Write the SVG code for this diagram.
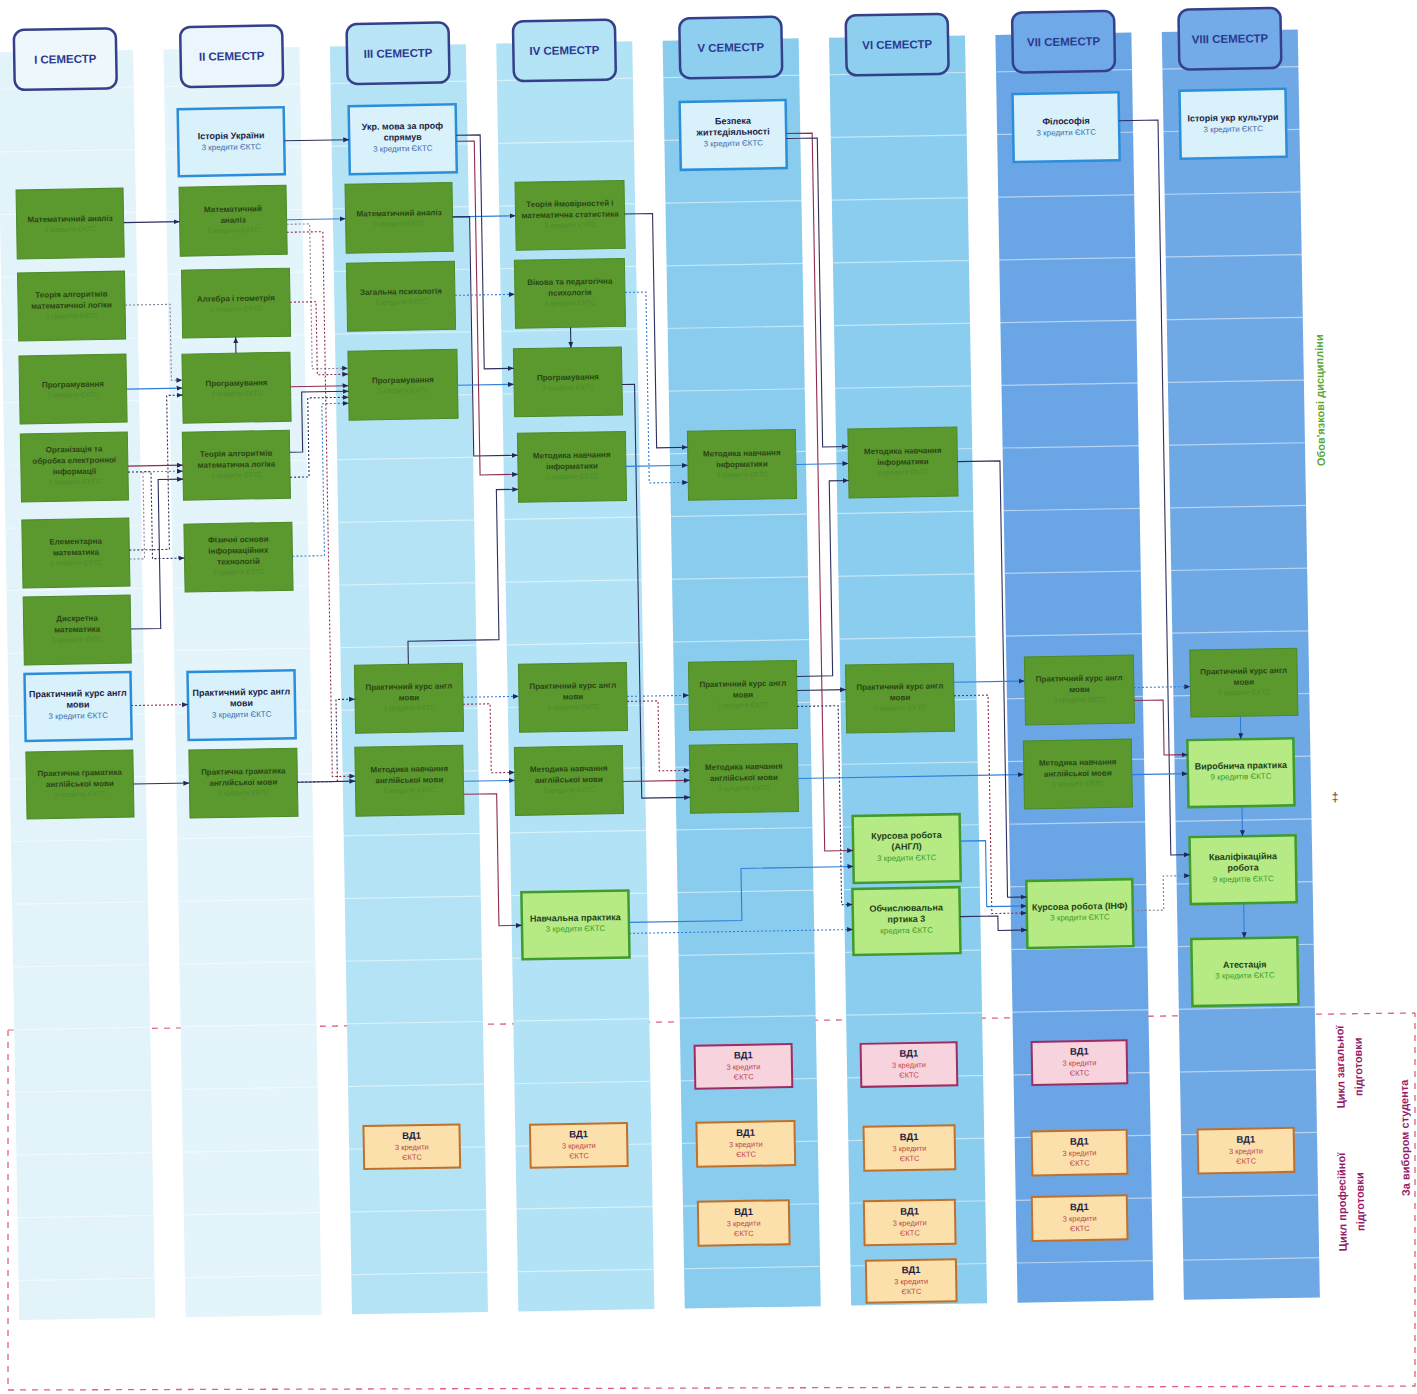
<svg xmlns="http://www.w3.org/2000/svg" width="1417" height="1394" viewBox="0 0 1417 1394">
<defs>
<style>
text{font-family:"Liberation Sans",Arial,sans-serif;text-anchor:middle}
.g{fill:#5b992f;stroke:#4b8a27;stroke-width:1}
.lb{fill:#d8f1fb;stroke:#2c8ed9;stroke-width:2.5}
.lg{fill:#b5ea84;stroke:#3f9b2c;stroke-width:2.5}
.vp{fill:#f7d4dd;stroke:#9d2c62;stroke-width:2}
.vo{fill:#fbe0ab;stroke:#c0702b;stroke-width:2}
.hd{stroke:#34418a;stroke-width:2.5}
.gt{font-size:8px;font-weight:bold;fill:#2a4614}
.gs{font-size:7px;fill:#4d8a2b}
.lt{font-size:9px;font-weight:bold;fill:#1d1d45}
.ls{font-size:8px;fill:#3c6aae}
.lgt{font-size:9px;font-weight:bold;fill:#24421a}
.lgs{font-size:8px;fill:#3d9a2a}
.vt{font-size:9.5px;font-weight:bold;fill:#1d1d45}
.vs{font-size:7.5px;fill:#c2434f}
.ht{font-size:11.5px;font-weight:bold;fill:#2b3990}
.cn{fill:none;stroke-width:1.1;marker-end:url(#ah)}
.navy{stroke:#2b2f5c}
.blue{stroke:#2f7ed8}
.maroon{stroke:#8e2b4e}
.gray{stroke:#8a7f98}
.dot{stroke-dasharray:2 2}
.grid line{stroke:#ffffff;stroke-opacity:0.5;stroke-width:1.2}
.side{font-size:11px;font-weight:bold}
</style>
<marker id="ah" viewBox="0 0 6 6" refX="6" refY="3" markerWidth="6" markerHeight="6" markerUnits="userSpaceOnUse" orient="auto"><path d="M0,0.5 L6,3 L0,5.5 z" fill="#1f2a5a"/></marker>
</defs>
<rect width="1417" height="1394" fill="#ffffff"/>
<g id="boundary" fill="none" stroke="#e0607e" stroke-width="1.3" stroke-dasharray="6 6">
<path d="M8,1030 L1415,1013"/>
<path d="M8,1030 L8,1390 L1415,1386 L1415,1013"/>
</g>
<text x="1335" y="801" style="font-size:12px;fill:#444">‡</text>
<g transform="rotate(-1 708 697)">
<g id="strips">
<rect x="8.5" y="40" width="136" height="1268" fill="#e2f3fa"/>
<rect x="174.9" y="40" width="136" height="1268" fill="#e3f4fa"/>
<rect x="341.3" y="40" width="136" height="1268" fill="#b4e3f6"/>
<rect x="507.7" y="40" width="136" height="1268" fill="#b1e2f5"/>
<rect x="674.1" y="40" width="136" height="1268" fill="#89ccee"/>
<rect x="840.5" y="40" width="136" height="1268" fill="#8bcdee"/>
<rect x="1006.9" y="40" width="136" height="1268" fill="#6aa6e6"/>
<rect x="1173.3" y="40" width="136" height="1268" fill="#6ea9e6"/>
</g>
<g class="grid">
<line x1="0" x2="1310" y1="77" y2="77"/><line x1="0" x2="1310" y1="139.7" y2="139.7"/><line x1="0" x2="1310" y1="202.4" y2="202.4"/><line x1="0" x2="1310" y1="265.1" y2="265.1"/><line x1="0" x2="1310" y1="327.8" y2="327.8"/><line x1="0" x2="1310" y1="390.5" y2="390.5"/><line x1="0" x2="1310" y1="453.2" y2="453.2"/><line x1="0" x2="1310" y1="515.9" y2="515.9"/><line x1="0" x2="1310" y1="578.6" y2="578.6"/><line x1="0" x2="1310" y1="641.3" y2="641.3"/><line x1="0" x2="1310" y1="704" y2="704"/><line x1="0" x2="1310" y1="766.7" y2="766.7"/><line x1="0" x2="1310" y1="829.4" y2="829.4"/><line x1="0" x2="1310" y1="892.1" y2="892.1"/><line x1="0" x2="1310" y1="954.8" y2="954.8"/><line x1="0" x2="1310" y1="1017.5" y2="1017.5"/><line x1="0" x2="1310" y1="1080.2" y2="1080.2"/><line x1="0" x2="1310" y1="1142.9" y2="1142.9"/><line x1="0" x2="1310" y1="1205.6" y2="1205.6"/><line x1="0" x2="1310" y1="1268.3" y2="1268.3"/>
</g>
<g id="headers">
<g id="h1"><rect class="hd" x="25.5" y="18" width="102" height="60" rx="10" fill="#eef8fc"/><text class="ht" x="76.5" y="52">I СЕМЕСТР</text></g>
<g id="h2"><rect class="hd" x="191.9" y="18" width="102" height="60" rx="10" fill="#eaf6fb"/><text class="ht" x="242.9" y="52">II СЕМЕСТР</text></g>
<g id="h3"><rect class="hd" x="358.3" y="18" width="102" height="60" rx="10" fill="#b9e5f7"/><text class="ht" x="409.3" y="52">III СЕМЕСТР</text></g>
<g id="h4"><rect class="hd" x="524.7" y="18" width="102" height="60" rx="10" fill="#b5e3f6"/><text class="ht" x="575.7" y="52">IV СЕМЕСТР</text></g>
<g id="h5"><rect class="hd" x="691.1" y="18" width="102" height="60" rx="10" fill="#8ecff0"/><text class="ht" x="742.1" y="52">V СЕМЕСТР</text></g>
<g id="h6"><rect class="hd" x="857.5" y="18" width="102" height="60" rx="10" fill="#8ecff0"/><text class="ht" x="908.5" y="52">VI СЕМЕСТР</text></g>
<g id="h7"><rect class="hd" x="1023.9" y="18" width="102" height="60" rx="10" fill="#6fa9e7"/><text class="ht" x="1074.9" y="52">VII СЕМЕСТР</text></g>
<g id="h8"><rect class="hd" x="1190.3" y="18" width="102" height="60" rx="10" fill="#72abe7"/><text class="ht" x="1241.3" y="52">VIII СЕМЕСТР</text></g>
</g>
<g id="nodes">
<g id="n1-ma"><rect class="g" x="25" y="178" width="107" height="69"/><text class="gt" x="78.5" y="210.5">Математичний аналіз</text><text class="gs" x="78.5" y="220.5">3 кредити ЄКТС</text></g>
<g id="n1-tal"><rect class="g" x="25" y="261" width="107" height="68"/><text class="gt" x="78.5" y="286">Теорія алгоритмів</text><text class="gt" x="78.5" y="297">математичної логіки</text><text class="gs" x="78.5" y="307">3 кредити ЄКТС</text></g>
<g id="n1-prog"><rect class="g" x="25" y="344" width="107" height="68"/><text class="gt" x="78.5" y="376">Програмування</text><text class="gs" x="78.5" y="386">3 кредити ЄКТС</text></g>
<g id="n1-org"><rect class="g" x="25" y="422" width="107" height="68"/><text class="gt" x="78.5" y="441">Організація та</text><text class="gt" x="78.5" y="452">обробка електронної</text><text class="gt" x="78.5" y="463">інформації</text><text class="gs" x="78.5" y="473">3 кредити ЄКТС</text></g>
<g id="n1-elem"><rect class="g" x="25" y="508" width="107" height="68"/><text class="gt" x="78.5" y="533">Елементарна</text><text class="gt" x="78.5" y="544">математика</text><text class="gs" x="78.5" y="554">3 кредити ЄКТС</text></g>
<g id="n1-disc"><rect class="g" x="25" y="585" width="107" height="68"/><text class="gt" x="78.5" y="610">Дискретна</text><text class="gt" x="78.5" y="621">математика</text><text class="gs" x="78.5" y="631">3 кредити ЄКТС</text></g>
<g id="n1-pka"><rect class="lb" x="25" y="662" width="106" height="67"/><text class="lt" x="78" y="685.5">Практичний курс англ</text><text class="lt" x="78" y="696.5">мови</text><text class="ls" x="78" y="707.5">3 кредити ЄКТС</text></g>
<g id="n1-pga"><rect class="g" x="25" y="740" width="107" height="67"/><text class="gt" x="78.5" y="764.5">Практична граматика</text><text class="gt" x="78.5" y="775.5">англійської мови</text><text class="gs" x="78.5" y="785.5">3 кредити ЄКТС</text></g>

<g id="n2-hist"><rect class="lb" x="188" y="100" width="106" height="67"/><text class="lt" x="241" y="130.5">Історія України</text><text class="ls" x="241" y="141.5">3 кредити ЄКТС</text></g>
<g id="n2-ma"><rect class="g" x="188" y="178" width="107" height="69"/><text class="gt" x="241.5" y="203.5">Математичний</text><text class="gt" x="241.5" y="214.5">аналіз</text><text class="gs" x="241.5" y="224.5">3 кредити ЄКТС</text></g>
<g id="n2-alg"><rect class="g" x="189" y="261" width="108" height="68"/><text class="gt" x="243" y="293">Алгебра і геометрія</text><text class="gs" x="243" y="303">3 кредити ЄКТС</text></g>
<g id="n2-prog"><rect class="g" x="188" y="345" width="108" height="69"/><text class="gt" x="242" y="377.5">Програмування</text><text class="gs" x="242" y="387.5">3 кредити ЄКТС</text></g>
<g id="n2-tal"><rect class="g" x="187" y="423" width="107" height="68"/><text class="gt" x="240.5" y="448">Теорія алгоритмів</text><text class="gt" x="240.5" y="459">математична логіка</text><text class="gs" x="240.5" y="469">3 кредити ЄКТС</text></g>
<g id="n2-fiz"><rect class="g" x="187" y="515" width="108" height="68"/><text class="gt" x="241" y="534">Фізичні основи</text><text class="gt" x="241" y="545">інформаційних</text><text class="gt" x="241" y="556">технологій</text><text class="gs" x="241" y="566">3 кредити ЄКТС</text></g>
<g id="n2-pka"><rect class="lb" x="188" y="663" width="107" height="68"/><text class="lt" x="241.5" y="687">Практичний курс англ</text><text class="lt" x="241.5" y="698">мови</text><text class="ls" x="241.5" y="709">3 кредити ЄКТС</text></g>
<g id="n2-pga"><rect class="g" x="188" y="741" width="108" height="68"/><text class="gt" x="242" y="766">Практична граматика</text><text class="gt" x="242" y="777">англійської мови</text><text class="gs" x="242" y="787">3 кредити ЄКТС</text></g>

<g id="n3-ukr"><rect class="lb" x="359" y="100" width="107" height="68"/><text class="lt" x="412.5" y="124">Укр. мова за проф</text><text class="lt" x="412.5" y="135">спрямув</text><text class="ls" x="412.5" y="146">3 кредити ЄКТС</text></g>
<g id="n3-ma"><rect class="g" x="354" y="178" width="107" height="69"/><text class="gt" x="407.5" y="210.5">Математичний аналіз</text><text class="gs" x="407.5" y="220.5">3 кредити ЄКТС</text></g>
<g id="n3-psy"><rect class="g" x="354" y="257" width="108" height="68"/><text class="gt" x="408" y="289">Загальна психологія</text><text class="gs" x="408" y="299">3 кредити ЄКТС</text></g>
<g id="n3-prog"><rect class="g" x="354" y="345" width="109" height="69"/><text class="gt" x="408.5" y="377.5">Програмування</text><text class="gs" x="408.5" y="387.5">3 кредити ЄКТС</text></g>
<g id="n3-pka"><rect class="g" x="355" y="659" width="108" height="68"/><text class="gt" x="409" y="684">Практичний курс англ</text><text class="gt" x="409" y="695">мови</text><text class="gs" x="409" y="705">3 кредити ЄКТС</text></g>
<g id="n3-mna"><rect class="g" x="354" y="741" width="108" height="69"/><text class="gt" x="408" y="766.5">Методика навчання</text><text class="gt" x="408" y="777.5">англійської мови</text><text class="gs" x="408" y="787.5">3 кредити ЄКТС</text></g>
<g id="n3-vd"><rect class="vo" x="356" y="1120" width="96" height="43"/><text class="vt" x="404" y="1133.5">ВД1</text><text class="vs" x="404" y="1144.5">3 кредити</text><text class="vs" x="404" y="1154.5">ЄКТС</text></g>

<g id="n4-tim"><rect class="g" x="524" y="179" width="109" height="68"/><text class="gt" x="578.5" y="204">Теорія ймовірностей і</text><text class="gt" x="578.5" y="215">математична статистика</text><text class="gs" x="578.5" y="225">3 кредити ЄКТС</text></g>
<g id="n4-vik"><rect class="g" x="522" y="257" width="110" height="68"/><text class="gt" x="577" y="282">Вікова та педагогічна</text><text class="gt" x="577" y="293">психологія</text><text class="gs" x="577" y="303">3 кредити ЄКТС</text></g>
<g id="n4-prog"><rect class="g" x="519.5" y="345.5" width="108" height="68"/><text class="gt" x="573.5" y="377.5">Програмування</text><text class="gs" x="573.5" y="387.5">3 кредити ЄКТС</text></g>
<g id="n4-mni"><rect class="g" x="522" y="430" width="108" height="69"/><text class="gt" x="576" y="455.5">Методика навчання</text><text class="gt" x="576" y="466.5">інформатики</text><text class="gs" x="576" y="476.5">3 кредити ЄКТС</text></g>
<g id="n4-pka"><rect class="g" x="519" y="661" width="108" height="68"/><text class="gt" x="573" y="686">Практичний курс англ</text><text class="gt" x="573" y="697">мови</text><text class="gs" x="573" y="707">3 кредити ЄКТС</text></g>
<g id="n4-mna"><rect class="g" x="513.5" y="744" width="108" height="68"/><text class="gt" x="567.5" y="769">Методика навчання</text><text class="gt" x="567.5" y="780">англійської мови</text><text class="gs" x="567.5" y="790">3 кредити ЄКТС</text></g>
<g id="n4-np"><rect class="lg" x="518" y="889" width="107" height="67"/><text class="lgt" x="571.5" y="918.5">Навчальна практика</text><text class="lgs" x="571.5" y="929">3 кредити ЄКТС</text></g>
<g id="n4-vd"><rect class="vo" x="522.5" y="1121.5" width="97" height="43"/><text class="vt" x="571" y="1135">ВД1</text><text class="vs" x="571" y="1146">3 кредити</text><text class="vs" x="571" y="1156">ЄКТС</text></g>

<g id="n5-bzh"><rect class="lb" x="690" y="101.5" width="106" height="68"/><text class="lt" x="743" y="124.5">Безпека</text><text class="lt" x="743" y="135.5">життєдіяльності</text><text class="ls" x="743" y="146.5">3 кредити ЄКТС</text></g>
<g id="n5-mni"><rect class="g" x="692" y="431" width="108" height="69"/><text class="gt" x="746" y="456.5">Методика навчання</text><text class="gt" x="746" y="467.5">інформатики</text><text class="gs" x="746" y="477.5">3 кредити ЄКТС</text></g>
<g id="n5-pka"><rect class="g" x="689" y="662" width="108" height="68"/><text class="gt" x="743" y="687">Практичний курс англ</text><text class="gt" x="743" y="698">мови</text><text class="gs" x="743" y="708">3 кредити ЄКТС</text></g>
<g id="n5-mna"><rect class="g" x="688.5" y="745" width="108" height="68"/><text class="gt" x="742.5" y="770">Методика навчання</text><text class="gt" x="742.5" y="781">англійської мови</text><text class="gs" x="742.5" y="791">3 кредити ЄКТС</text></g>
<g id="n5-vd1"><rect class="vp" x="688.5" y="1045.5" width="97" height="43"/><text class="vt" x="737" y="1059">ВД1</text><text class="vs" x="737" y="1070">3 кредити</text><text class="vs" x="737" y="1080">ЄКТС</text></g>
<g id="n5-vd2"><rect class="vo" x="689" y="1122.5" width="98" height="44"/><text class="vt" x="738" y="1136.5">ВД1</text><text class="vs" x="738" y="1147.5">3 кредити</text><text class="vs" x="738" y="1157.5">ЄКТС</text></g>
<g id="n5-vd3"><rect class="vo" x="689" y="1201.5" width="91" height="44"/><text class="vt" x="734.5" y="1215.5">ВД1</text><text class="vs" x="734.5" y="1226.5">3 кредити</text><text class="vs" x="734.5" y="1236.5">ЄКТС</text></g>

<g id="n6-mni"><rect class="g" x="852.5" y="431.5" width="109" height="69"/><text class="gt" x="907" y="457">Методика навчання</text><text class="gt" x="907" y="468">інформатики</text><text class="gs" x="907" y="478">3 кредити ЄКТС</text></g>
<g id="n6-pka"><rect class="g" x="846" y="667.5" width="108" height="68"/><text class="gt" x="900" y="692.5">Практичний курс англ</text><text class="gt" x="900" y="703.5">мови</text><text class="gs" x="900" y="713.5">3 кредити ЄКТС</text></g>
<g id="n6-kr"><rect class="lg" x="850.5" y="818.5" width="107" height="67"/><text class="lgt" x="904" y="842">Курсова робота</text><text class="lgt" x="904" y="853">(АНГЛ)</text><text class="lgs" x="904" y="864">3 кредити ЄКТС</text></g>
<g id="n6-obch"><rect class="lg" x="849" y="891.5" width="107" height="66"/><text class="lgt" x="902.5" y="914.5">Обчислювальна</text><text class="lgt" x="902.5" y="925.5">пртика 3</text><text class="lgs" x="902.5" y="936.5">кредита ЄКТС</text></g>
<g id="n6-vd1"><rect class="vp" x="854.5" y="1046.5" width="96" height="43"/><text class="vt" x="902.5" y="1060">ВД1</text><text class="vs" x="902.5" y="1071">3 кредити</text><text class="vs" x="902.5" y="1081">ЄКТС</text></g>
<g id="n6-vd2"><rect class="vo" x="856" y="1129.5" width="91" height="44"/><text class="vt" x="901.5" y="1143.5">ВД1</text><text class="vs" x="901.5" y="1154.5">3 кредити</text><text class="vs" x="901.5" y="1164.5">ЄКТС</text></g>
<g id="n6-vd3"><rect class="vo" x="855" y="1204" width="91" height="44"/><text class="vt" x="900.5" y="1218">ВД1</text><text class="vs" x="900.5" y="1229">3 кредити</text><text class="vs" x="900.5" y="1239">ЄКТС</text></g>
<g id="n6-vd4"><rect class="vo" x="856" y="1263.5" width="90" height="42"/><text class="vt" x="901" y="1276.5">ВД1</text><text class="vs" x="901" y="1287.5">3 кредити</text><text class="vs" x="901" y="1297.5">ЄКТС</text></g>

<g id="n7-fil"><rect class="lb" x="1023" y="99.5" width="106" height="68"/><text class="lt" x="1076" y="130.5">Філософія</text><text class="ls" x="1076" y="141.5">3 кредити ЄКТС</text></g>
<g id="n7-pka"><rect class="g" x="1025" y="662.5" width="109" height="68"/><text class="gt" x="1079.5" y="687.5">Практичний курс англ</text><text class="gt" x="1079.5" y="698.5">мови</text><text class="gs" x="1079.5" y="708.5">3 кредити ЄКТС</text></g>
<g id="n7-mna"><rect class="g" x="1022.5" y="746.5" width="108" height="68"/><text class="gt" x="1076.5" y="771.5">Методика навчання</text><text class="gt" x="1076.5" y="782.5">англійської мови</text><text class="gs" x="1076.5" y="792.5">3 кредити ЄКТС</text></g>
<g id="n7-kr"><rect class="lg" x="1023" y="886.5" width="106" height="67"/><text class="lgt" x="1076" y="916">Курсова робота (ІНФ)</text><text class="lgs" x="1076" y="926.5">3 кредити ЄКТС</text></g>
<g id="n7-vd1"><rect class="vp" x="1025.5" y="1047.5" width="95" height="43"/><text class="vt" x="1073" y="1061">ВД1</text><text class="vs" x="1073" y="1072">3 кредити</text><text class="vs" x="1073" y="1082">ЄКТС</text></g>
<g id="n7-vd2"><rect class="vo" x="1024" y="1137" width="95" height="44"/><text class="vt" x="1071.5" y="1151">ВД1</text><text class="vs" x="1071.5" y="1162">3 кредити</text><text class="vs" x="1071.5" y="1172">ЄКТС</text></g>
<g id="n7-vd3"><rect class="vo" x="1023" y="1202.5" width="95" height="44"/><text class="vt" x="1070.5" y="1216.5">ВД1</text><text class="vs" x="1070.5" y="1227.5">3 кредити</text><text class="vs" x="1070.5" y="1237.5">ЄКТС</text></g>

<g id="n8-hist"><rect class="lb" x="1190" y="99" width="106" height="68"/><text class="lt" x="1243" y="130">Історія укр культури</text><text class="ls" x="1243" y="141">3 кредити ЄКТС</text></g>
<g id="n8-pka"><rect class="g" x="1190.5" y="658.5" width="107" height="67"/><text class="gt" x="1244" y="683">Практичний курс англ</text><text class="gt" x="1244" y="694">мови</text><text class="gs" x="1244" y="704">3 кредити ЄКТС</text></g>
<g id="n8-vyr"><rect class="lg" x="1186.5" y="748.5" width="106" height="67"/><text class="lgt" x="1239.5" y="778">Виробнича практика</text><text class="lgs" x="1239.5" y="788.5">9 кредитів ЄКТС</text></g>
<g id="n8-kval"><rect class="lg" x="1187" y="845.5" width="106" height="67"/><text class="lgt" x="1240" y="869">Кваліфікаційна</text><text class="lgt" x="1240" y="880">робота</text><text class="lgs" x="1240" y="891">9 кредитів ЄКТС</text></g>
<g id="n8-att"><rect class="lg" x="1187" y="947.5" width="106" height="67"/><text class="lgt" x="1240" y="977">Атестація</text><text class="lgs" x="1240" y="987.5">3 кредити ЄКТС</text></g>
<g id="n8-vd"><rect class="vo" x="1190" y="1138" width="96" height="44"/><text class="vt" x="1238" y="1152">ВД1</text><text class="vs" x="1238" y="1163">3 кредити</text><text class="vs" x="1238" y="1173">ЄКТС</text></g>
</g>
<g id="connectors">
<path class="cn navy" d="M132,212.5 H188"/>
<path class="cn gray dot" d="M132,295 H177 V371 H188"/>
<path class="cn blue" d="M132,379 H188"/>
<path class="cn maroon" d="M132,456 H187"/>
<path class="cn navy dot" d="M132,540 H172 V386 H188"/>
<path class="cn gray dot" d="M132,549 H147 V462 H187"/>
<path class="cn navy dot" d="M132,462 H155 V549 H187"/>
<path class="cn navy" d="M132,619 H162 V470 H187"/>
<path class="cn navy" d="M242,345 V329"/>
<path class="cn maroon dot" d="M131,695.5 H188"/>
<path class="cn navy" d="M132,774 H188"/>
<path class="cn navy" d="M294,133.5 H359"/>
<path class="cn blue" d="M295,212.5 H354"/>
<path class="cn gray dot" d="M295,217 H318 V362 H354"/>
<path class="cn maroon dot" d="M297,295 H323 V368 H354"/>
<path class="cn maroon" d="M296,379.5 H354"/>
<path class="cn navy" d="M294,445 H307 V385 H354"/>
<path class="cn blue dot" d="M295,549 H327 V397 H354"/>
<path class="cn navy dot" d="M294,470 H313 V391 H354"/>
<path class="cn navy" d="M296,775 H354"/>
<path class="cn navy dot" d="M296,775 H336 V693 H355"/>
<path class="cn maroon dot" d="M295,225 H331 V770 H354"/>
<path class="cn blue" d="M461,212.5 H524"/>
<path class="cn navy" d="M466,131 H490 V365 H519.5"/>
<path class="cn navy" d="M461,212.5 H478 V452 H522"/>
<path class="cn blue dot" d="M462,291 H522"/>
<path class="cn blue" d="M463,381 H519.5"/>
<path class="cn maroon" d="M466,137 H484 V471 H522"/>
<path class="cn navy" d="M409,659 V636 H500 V486 H522"/>
<path class="cn navy" d="M577,325 V345.5"/>
<path class="cn blue dot" d="M463,693 H519"/>
<path class="cn blue" d="M462,777 H513.5"/>
<path class="cn maroon dot" d="M463,700 H490 V769 H513.5"/>
<path class="cn maroon" d="M462,790 H495 V922 H518"/>
<path class="cn navy" d="M633,212.6 H661 V447 H692"/>
<path class="cn blue dot" d="M632,291 H653 V482 H692"/>
<path class="cn navy" d="M627.5,383 H640 V797 H688.5"/>
<path class="cn blue" d="M630,465 H692"/>
<path class="cn blue dot" d="M627,695 H689"/>
<path class="cn maroon dot" d="M627,700 H658 V770 H688.5"/>
<path class="cn maroon" d="M621.5,780 H688.5"/>
<path class="cn blue" d="M625,921 H738 V869 H850.5"/>
<path class="cn blue dot" d="M625,932 H849"/>
<path class="cn maroon" d="M796,135 H822 V853 H850.5"/>
<path class="cn navy" d="M796,140 H827 V449 H852.5"/>
<path class="cn blue" d="M800,466 H852.5"/>
<path class="cn navy" d="M797,678 H833 V483 H852.5"/>
<path class="cn navy" d="M797,692 H846"/>
<path class="cn navy dot" d="M797,708 H838 V907 H849"/>
<path class="cn blue" d="M796.5,780 H1022.5"/>
<path class="cn navy" d="M961.5,466 H1004 V902.5 H1023"/>
<path class="cn blue" d="M954,686.5 H1025"/>
<path class="cn maroon dot" d="M954,700 H988 V918.5 H1023"/>
<path class="cn blue" d="M957.5,845.5 H983 V911.5 H1023"/>
<path class="cn navy" d="M956,921 H994 V935.5 H1023"/>
<path class="cn navy" d="M1129,128 H1168 V863 H1187"/>
<path class="cn blue dot" d="M1134,695 H1190.5"/>
<path class="cn maroon" d="M1134,708 H1163 V763 H1186.5"/>
<path class="cn blue" d="M1130.5,782 H1186.5"/>
<path class="cn gray dot" d="M1129,918 H1160 V884 H1187"/>
<path class="cn blue" d="M1240,725.5 V748.5"/>
<path class="cn blue" d="M1240,815.5 V845.5"/>
<path class="cn blue" d="M1240,912.5 V947.5"/>
</g>
<g id="labels">
<text class="side" transform="translate(1325 411) rotate(-90)" y="4" fill="#5aa832">Обов'язкові дисципліни</text>
<text class="side" transform="translate(1342 1078) rotate(-90)" fill="#951a6a"><tspan x="0" y="-4.5">Цикл загальної</tspan><tspan x="0" y="13.5">підготовки</tspan></text>
<text class="side" transform="translate(1342 1213) rotate(-90)" fill="#951a6a"><tspan x="0" y="-5">Цикл професійної</tspan><tspan x="0" y="13">підготовки</tspan></text>
<text class="side" transform="translate(1397 1150) rotate(-90)" y="4" fill="#951a6a">За вибором  студента</text>
</g>
</g>
</svg>
